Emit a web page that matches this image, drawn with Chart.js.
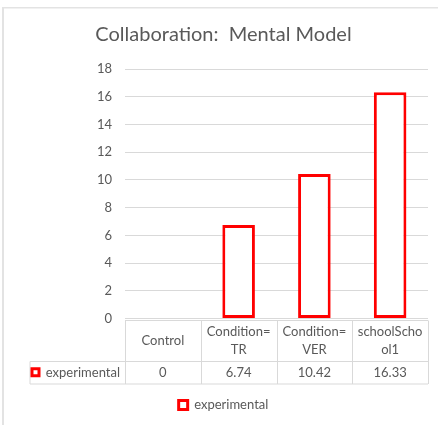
<!DOCTYPE html>
<html>
<head>
<meta charset="utf-8">
<script src="https://cdn.jsdelivr.net/npm/chart.js@4.4.0/dist/chart.umd.min.js"></script>
<style>
  html, body { margin: 0; padding: 0; background: #fff; }
</style>
</head>
<body>
<canvas id="myChart" width="438" height="425"></canvas>
<script>
// chart data
const categories = [['Control'], ['Condition=', 'TR'], ['Condition=', 'VER'], ['schoolScho', 'ol1']];
const seriesName = 'experimental';
const experimental = [0, 6.74, 10.42, 16.33];
const yMin = 0;
const yMax = 18;
const yStep = 2;

const RED = '#ff0000';
const GREY_TEXT = '#595959';
const GRID = '#d9d9d9';
const FONT = 'Lato';
const FONT_SIZE = 13;

// light frame on the top and left edges
const framePlugin = {
  id: 'frame',
  beforeDraw(chart) {
    const ctx = chart.ctx;
    ctx.save();
    ctx.fillStyle = '#e3e3e3';
    ctx.fillRect(2, 7, chart.width - 2, 1.5);
    ctx.fillRect(2, 7, 2, chart.height - 7);
    ctx.restore();
  }
};

// data table under the plot, columns follow the x scale
const dataTablePlugin = {
  id: 'dataTable',
  afterDraw(chart) {
    const ctx = chart.ctx;
    const xScale = chart.scales.x;
    const area = chart.chartArea;
    const n = categories.length;
    const colW = (area.right - area.left) / n;
    const top = Math.round(area.bottom) + 1.5;
    const mid = top + 41;
    const bottom = mid + 22.5;
    const headLeft = 30;

    ctx.save();
    ctx.strokeStyle = GRID;
    ctx.lineWidth = 1;
    ctx.beginPath();
    // horizontal rules
    ctx.moveTo(area.left, top); ctx.lineTo(area.right, top);
    ctx.moveTo(headLeft, mid); ctx.lineTo(area.right, mid);
    ctx.moveTo(headLeft, bottom); ctx.lineTo(area.right, bottom);
    // verticals
    ctx.moveTo(headLeft, mid); ctx.lineTo(headLeft, bottom);
    for (let i = 0; i <= n; i++) {
      const x = Math.round(area.left + i * colW) + 0.5;
      ctx.moveTo(x, top); ctx.lineTo(x, bottom);
    }
    ctx.stroke();

    ctx.fillStyle = GREY_TEXT;
    ctx.font = FONT_SIZE + 'px ' + FONT;
    ctx.textAlign = 'center';
    ctx.textBaseline = 'middle';
    categories.forEach((lines, i) => {
      const cx = xScale.getPixelForValue(i);
      const lh = 17.4;
      const y0 = (top + mid) / 2 - (lines.length - 1) * lh / 2;
      lines.forEach((t, j) => ctx.fillText(t, cx, y0 + j * lh));
      ctx.fillText(String(experimental[i]), cx, (mid + bottom) / 2);
    });

    // row header with series key
    const ry = (mid + bottom) / 2;
    ctx.textAlign = 'right';
    ctx.fillText(seriesName, area.left - 5, ry);
    ctx.fillStyle = '#fff';
    ctx.strokeStyle = RED;
    ctx.lineWidth = 3;
    ctx.fillRect(32, ry - 4, 7, 7);
    ctx.strokeRect(32, ry - 4, 7, 7);
    ctx.restore();
  }
};

const data = {
  labels: categories,
  datasets: [{
    label: seriesName,
    data: experimental,
    backgroundColor: '#ffffff',
    borderColor: RED,
    borderWidth: 3,
    borderSkipped: false,
    categoryPercentage: 1,
    barPercentage: 0.43
  }]
};

const config = {
  type: 'bar',
  data: data,
  plugins: [framePlugin, dataTablePlugin],
  options: {
    responsive: false,
    animation: false,
    layout: { padding: { left: 19, right: 10, top: 0, bottom: 3.5 } },
    scales: {
      x: {
        grid: { display: false },
        border: { display: false },
        ticks: { display: false },
        afterFit: (scale) => { scale.height = 76; }
      },
      y: {
        min: yMin,
        max: yMax,
        ticks: {
          stepSize: yStep,
          padding: 13,
          color: GREY_TEXT,
          font: { family: FONT, size: FONT_SIZE }
        },
        grid: { color: GRID, lineWidth: 1, drawTicks: false },
        border: { display: false },
        afterFit: (scale) => { scale.width = 106; }
      }
    },
    plugins: {
      title: {
        display: true,
        text: 'Collaboration:  Mental Model',
        color: GREY_TEXT,
        font: { family: FONT, size: 20, weight: 'normal' },
        padding: { top: 23, bottom: 22 }
      },
      legend: {
        position: 'bottom',
        labels: {
          boxWidth: 9,
          boxHeight: 9,
          padding: 4,
          color: GREY_TEXT,
          font: { family: FONT, size: FONT_SIZE },
          generateLabels: (chart) => Chart.defaults.plugins.legend.labels.generateLabels(chart)
            .map((item) => ({ ...item, lineWidth: 3 }))
        }
      },
      tooltip: { enabled: false }
    }
  }
};

myChart = new Chart(document.getElementById('myChart'), config);
</script>
</body>
</html>
